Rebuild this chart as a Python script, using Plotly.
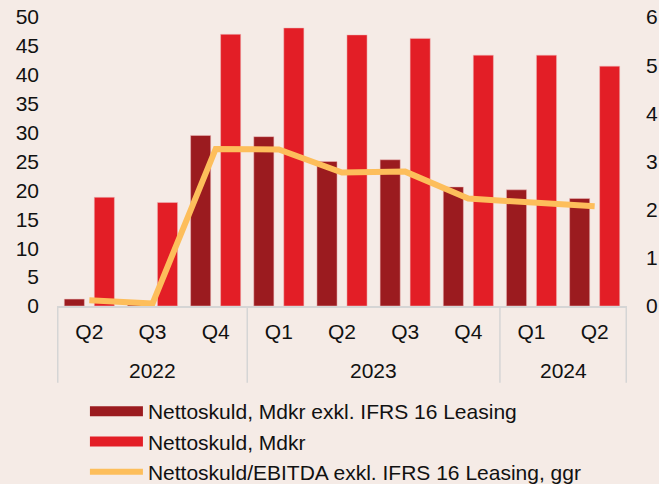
import plotly.graph_objects as go

years = ["2022", "2022", "2022", "2023", "2023", "2023", "2023", "2024", "2024"]
quarters = ["Q2", "Q3", "Q4", "Q1", "Q2", "Q3", "Q4", "Q1", "Q2"]
net_debt_excl_ifrs16 = [1.2, 0.3, 29.5, 29.3, 25.0, 25.3, 20.6, 20.1, 18.6]
net_debt = [18.8, 17.9, 47.0, 48.1, 46.9, 46.3, 43.4, 43.4, 41.5]
debt_ebitda = [0.12, 0.05, 3.26, 3.25, 2.77, 2.79, 2.23, 2.15, 2.07]

left_ticks = [0, 5, 10, 15, 20, 25, 30, 35, 40, 45, 50]
right_ticks = [0, 1, 2, 3, 4, 5, 6]

names = [
    "Nettoskuld, Mdkr exkl. IFRS 16 Leasing",
    "Nettoskuld, Mdkr",
    "Nettoskuld/EBITDA exkl. IFRS 16 Leasing, ggr",
]

BG = "#F5EBE6"
DARK = "#9B1B1F"
RED = "#E31E26"
ORANGE = "#FDBE5B"
GRID = "#D5D5D5"
FONT = dict(family="Liberation Sans, Arial, sans-serif", size=21, color="#111111")

cats = [f"{q} {y}" for q, y in zip(quarters, years)]

fig = go.Figure()
edge = dict(color="rgba(240,190,190,0.5)", width=1)
fig.add_trace(go.Bar(x=cats, y=net_debt_excl_ifrs16, name=names[0],
                     marker=dict(color=DARK, line=edge), showlegend=False))
fig.add_trace(go.Bar(x=cats, y=net_debt, name=names[1],
                     marker=dict(color=RED, line=edge), showlegend=False))
fig.add_trace(go.Scatter(x=cats, y=debt_ebitda, name=names[2], mode="lines",
                         line=dict(color=ORANGE, width=6), yaxis="y2", showlegend=False))

# legend entries (wide swatches like the original)
for nm, col, w in [(names[0], DARK, 11), (names[1], RED, 11), (names[2], ORANGE, 6)]:
    fig.add_trace(go.Scatter(x=[None], y=[None], mode="lines", name=nm,
                             line=dict(color=col, width=w), showlegend=True))

# year group labels and dividers
groups = []
for i, yv in enumerate(years):
    if not groups or groups[-1][0] != yv:
        groups.append([yv, i, i])
    else:
        groups[-1][2] = i

shapes = []
annotations = []
for yv, i0, i1 in groups:
    annotations.append(dict(x=(i0 + i1) / 2, y=-0.222, xref="x", yref="paper",
                            text=yv, showarrow=False, font=FONT, yanchor="middle"))
bounds = [g[1] - 0.5 for g in groups] + [groups[-1][2] + 0.5]
for b in bounds:
    shapes.append(dict(type="line", x0=b, x1=b, y0=0, y1=-0.266, xref="x", yref="paper",
                       line=dict(color=GRID, width=1.5)))

fig.update_layout(
    width=659, height=484,
    margin=dict(l=57, r=32, t=17, b=178, autoexpand=False),
    paper_bgcolor=BG, plot_bgcolor=BG,
    font=FONT,
    barmode="group", bargap=0.05, bargroupgap=0.33,
    showlegend=True,
    legend=dict(
        orientation="v", x=0.049, xanchor="left", yref="container", y=0.192, yanchor="top",
        font=FONT, bgcolor="rgba(0,0,0,0)", tracegroupgap=0, itemwidth=53,
    ),
    xaxis=dict(
        type="category", showgrid=False, showline=True, linecolor=GRID, linewidth=1.5,
        tickvals=cats, ticktext=quarters, tickfont=FONT, ticks="",
        ticklabelstandoff=6, automargin=False,
    ),
    yaxis=dict(
        range=[0, 50], tickvals=left_ticks, showgrid=False, zeroline=False,
        showline=False, tickfont=FONT, ticklabelstandoff=17, automargin=False,
    ),
    yaxis2=dict(
        range=[0, 6], tickvals=right_ticks, overlaying="y", side="right",
        showgrid=False, zeroline=False, showline=False, tickfont=FONT,
        ticklabelstandoff=18, automargin=False,
    ),
    shapes=shapes,
    annotations=annotations,
)

fig.write_html("out.html", config={"displayModeBar": False},
               post_script="document.body.style.margin='0';")
